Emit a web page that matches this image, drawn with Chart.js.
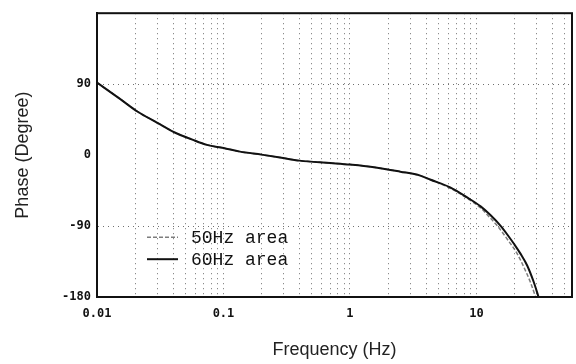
<!DOCTYPE html>
<html>
<head>
<meta charset="utf-8">
<script src="https://cdn.jsdelivr.net/npm/chart.js@4.4.0/dist/chart.umd.min.js"></script>
<style>
  html, body { margin: 0; padding: 0; background: #ffffff; }
  canvas { display: block; }
</style>
</head>
<body>
<canvas id="c" width="576" height="364"></canvas>
<script>
// Phase response, 60 Hz area
const freq60  = [0.01, 0.015, 0.021, 0.03, 0.042, 0.056, 0.074, 0.1, 0.135, 0.2, 0.28, 0.4, 0.7, 1, 1.5, 2.5, 3.6, 4.3, 6.2, 8.5, 10.8, 12.9, 15.6, 17.6, 19.8, 22.3, 25.2, 28.4, 31];
const phase60 = [92, 72, 55, 41, 28, 20, 13, 9, 4.4, 0.6, -3, -7, -10, -12, -15, -21, -26, -31, -41, -54, -65, -76, -90, -101, -112.5, -125, -140, -161, -180];

// Phase response, 50 Hz area
const freq50  = [0.01, 0.015, 0.021, 0.03, 0.042, 0.056, 0.074, 0.1, 0.135, 0.2, 0.28, 0.4, 0.7, 1, 1.5, 2.5, 3.6, 4.3, 6.2, 8.5, 10.8, 12.9, 14.7, 17.6, 21, 23.7, 26.7, 29.4];
const phase50 = [92, 72, 55, 41, 28, 20, 13, 9, 4.4, 0.6, -3, -7, -10, -12, -15, -21, -26, -31, -42, -55, -67, -80, -90, -107, -125, -142, -161, -180];

// Axis ticks
const freqDecades   = [0.01, 0.1, 1, 10];
const freqMultiples = [1, 2, 3, 4, 5, 6, 7, 8, 9];
const phaseTicks    = [-180, -90, 0, 90];
const phaseGrid     = [-90, 90];

const seriesLabels = ['50Hz area', '60Hz area'];

const toPoints = (xs, ys) => xs.map((x, i) => ({ x: x, y: ys[i] }));

// Solid box around the plot area (the scale borders carry the grid dash pattern)
const frameBox = {
  id: 'frameBox',
  afterDatasetsDraw(chart) {
    const { ctx, chartArea: a } = chart;
    ctx.save();
    ctx.strokeStyle = '#111';
    ctx.lineWidth = 2;
    ctx.setLineDash([]);
    ctx.strokeRect(a.left, a.top, a.width, a.height);
    ctx.restore();
  }
};

// Legend drawn inside the lower-left part of the plot
const insideLegend = {
  id: 'insideLegend',
  afterDraw(chart) {
    const { ctx, chartArea: a } = chart;
    const x0 = a.left + 50, x1 = a.left + 81, tx = a.left + 94;
    const rows = [a.top + 224, a.top + 246];
    ctx.save();
    chart.data.datasets.forEach((ds, i) => {
      const y = rows[i];
      ctx.beginPath();
      ctx.strokeStyle = ds.borderColor;
      ctx.lineWidth = ds.borderWidth;
      ctx.setLineDash(ds.borderDash || []);
      ctx.moveTo(x0, y);
      ctx.lineTo(x1, y);
      ctx.stroke();
      ctx.setLineDash([]);
      ctx.fillStyle = '#111';
      ctx.font = '18px "Liberation Mono", "DejaVu Sans Mono", monospace';
      ctx.textBaseline = 'middle';
      ctx.textAlign = 'left';
      ctx.fillText(ds.label, tx, y + 1);
    });
    ctx.restore();
  }
};

new Chart(document.getElementById('c'), {
  type: 'line',
  data: {
    datasets: [
      {
        label: seriesLabels[0],
        data: toPoints(freq50, phase50),
        borderColor: '#7d7d7d',
        borderWidth: 1.5,
        borderDash: [4, 2],
        pointRadius: 0,
        cubicInterpolationMode: 'monotone',
        fill: false,
        order: 1
      },
      {
        label: seriesLabels[1],
        data: toPoints(freq60, phase60),
        borderColor: '#111111',
        borderWidth: 2,
        pointRadius: 0,
        cubicInterpolationMode: 'monotone',
        fill: false,
        order: 0
      }
    ]
  },
  options: {
    responsive: false,
    animation: false,
    devicePixelRatio: 1,
    layout: { padding: { left: 0, right: 4, top: 8, bottom: 0 } },
    plugins: {
      legend: { display: false },
      tooltip: { enabled: false }
    },
    scales: {
      x: {
        type: 'logarithmic',
        min: 0.01,
        max: 57,
        afterBuildTicks(scale) {
          const ticks = [];
          freqDecades.forEach(d => freqMultiples.forEach(m => {
            const v = +(d * m).toPrecision(3);
            if (v >= scale.min && v <= scale.max) ticks.push({ value: v });
          }));
          scale.ticks = ticks;
        },
        afterFit(scale) { scale.height = 67; },
        grid: {
          drawTicks: false,
          color: '#707070',
          lineWidth: 1
        },
        border: { display: true, color: '#111', width: 2, dash: [1, 4] },
        ticks: {
          autoSkip: false,
          maxRotation: 0,
          padding: 10,
          color: '#111',
          font: { family: '"DejaVu Sans Mono", monospace', size: 12, weight: 'bold' },
          callback(value) {
            const v = +(+value).toPrecision(3);
            return freqDecades.includes(v) ? String(v) : '';
          }
        },
        title: {
          display: true,
          text: 'Frequency (Hz)',
          color: '#222',
          font: { family: '"Liberation Sans", Arial, sans-serif', size: 18 },
          padding: { top: 0, bottom: 3 }
        }
      },
      y: {
        type: 'linear',
        min: -180,
        max: 180,
        afterBuildTicks(scale) {
          scale.ticks = phaseTicks.map(v => ({ value: v }));
        },
        afterFit(scale) { scale.width = 97; },
        grid: {
          drawTicks: false,
          lineWidth: 1,
          color(ctx) {
            return phaseGrid.includes(ctx.tick && ctx.tick.value) ? '#707070' : 'rgba(0,0,0,0)';
          }
        },
        border: { display: true, color: '#111', width: 2, dash: [1, 4] },
        ticks: {
          padding: 6,
          color: '#111',
          font: { family: '"DejaVu Sans Mono", monospace', size: 12, weight: 'bold' }
        },
        title: {
          display: true,
          text: 'Phase (Degree)',
          color: '#222',
          font: { family: '"Liberation Sans", Arial, sans-serif', size: 18 },
          padding: { top: 12, bottom: 0 }
        }
      }
    }
  },
  plugins: [frameBox, insideLegend]
});
</script>
</body>
</html>
